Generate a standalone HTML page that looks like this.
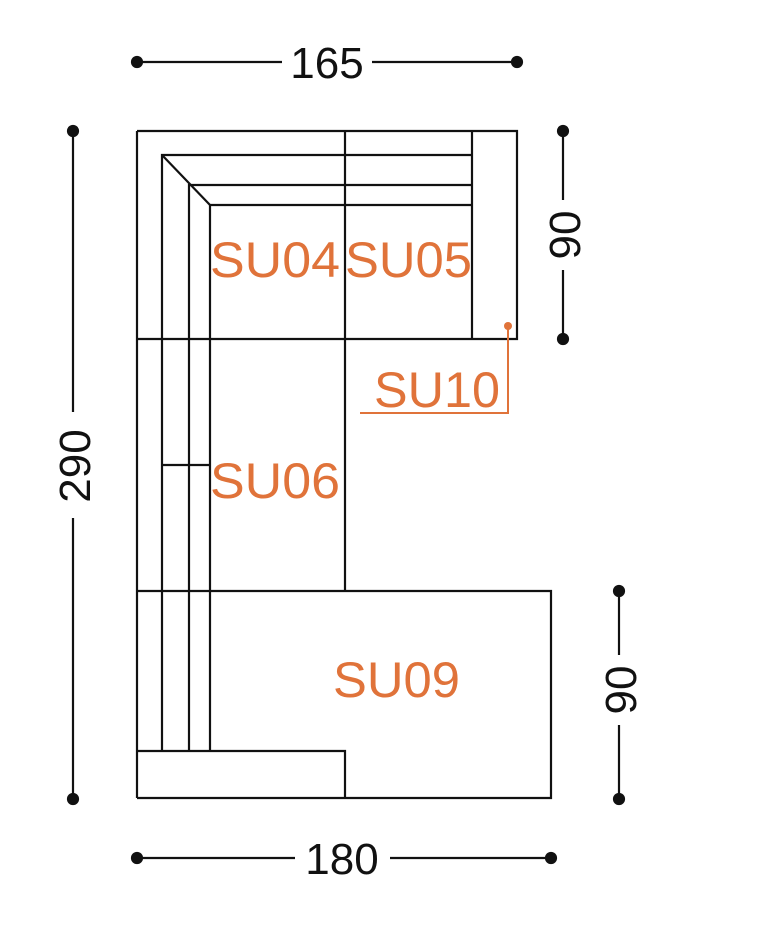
<!DOCTYPE html>
<html><head><meta charset="utf-8"><style>
html,body{margin:0;padding:0;background:#fff;}
svg{display:block;}
text{font-family:"Liberation Sans",sans-serif;}
</style></head><body>
<svg width="768" height="933" viewBox="0 0 768 933" xmlns="http://www.w3.org/2000/svg">
<g stroke="#111" stroke-width="2.2" fill="none">
<polyline points="137,131 517,131 517,339 345,339"/>
<line x1="137" y1="131" x2="137" y2="798"/>
<line x1="472" y1="131" x2="472" y2="339"/>
<line x1="345" y1="131" x2="345" y2="591"/>
<line x1="137" y1="339" x2="345" y2="339"/>
<polyline points="137,591 551,591 551,798 137,798"/>
<polyline points="137,751 345,751 345,798"/>
<polyline points="162,751 162,155 472,155"/>
<polyline points="189,751 189,185 472,185"/>
<polyline points="210,751 210,205 472,205"/>
<line x1="162" y1="155" x2="210" y2="205"/>
<line x1="162" y1="465" x2="210" y2="465"/>
</g>
<g stroke="#111" stroke-width="2.2" fill="#111">
<line x1="137" y1="62" x2="282" y2="62"/><line x1="372" y1="62" x2="517" y2="62"/>
<circle cx="137" cy="62" r="5"/><circle cx="517" cy="62" r="5"/>
<line x1="137" y1="858" x2="295" y2="858"/><line x1="390" y1="858" x2="551" y2="858"/>
<circle cx="137" cy="858" r="5"/><circle cx="551" cy="858" r="5"/>
<line x1="73" y1="131" x2="73" y2="412"/><line x1="73" y1="518" x2="73" y2="799"/>
<circle cx="73" cy="131" r="5"/><circle cx="73" cy="799" r="5"/>
<line x1="563" y1="131" x2="563" y2="200"/><line x1="563" y1="270" x2="563" y2="339"/>
<circle cx="563" cy="131" r="5"/><circle cx="563" cy="339" r="5"/>
<line x1="619" y1="591" x2="619" y2="655"/><line x1="619" y1="725" x2="619" y2="799"/>
<circle cx="619" cy="591" r="5"/><circle cx="619" cy="799" r="5"/>
</g>
<g fill="#111" font-size="44">
<text x="327" y="78" text-anchor="middle">165</text>
<text x="342" y="874" text-anchor="middle">180</text>
<text transform="translate(90,466) rotate(-90)" text-anchor="middle">290</text>
<text transform="translate(580,235) rotate(-90)" text-anchor="middle">90</text>
<text transform="translate(636,690) rotate(-90)" text-anchor="middle">90</text>
</g>
<g stroke="#e0733a" stroke-width="2" fill="none">
<polyline points="508,326 508,413 360,413"/>
</g>
<circle cx="508" cy="326" r="4" fill="#e0733a"/>
<g fill="#e0733a" font-size="50">
<text x="210" y="277" textLength="130" lengthAdjust="spacingAndGlyphs">SU04</text>
<text x="345" y="277" textLength="127" lengthAdjust="spacingAndGlyphs">SU05</text>
<text x="374" y="407" textLength="126" lengthAdjust="spacingAndGlyphs">SU10</text>
<text x="210" y="498" textLength="130" lengthAdjust="spacingAndGlyphs">SU06</text>
<text x="333" y="697" textLength="127" lengthAdjust="spacingAndGlyphs">SU09</text>
</g>
</svg>
</body></html>
